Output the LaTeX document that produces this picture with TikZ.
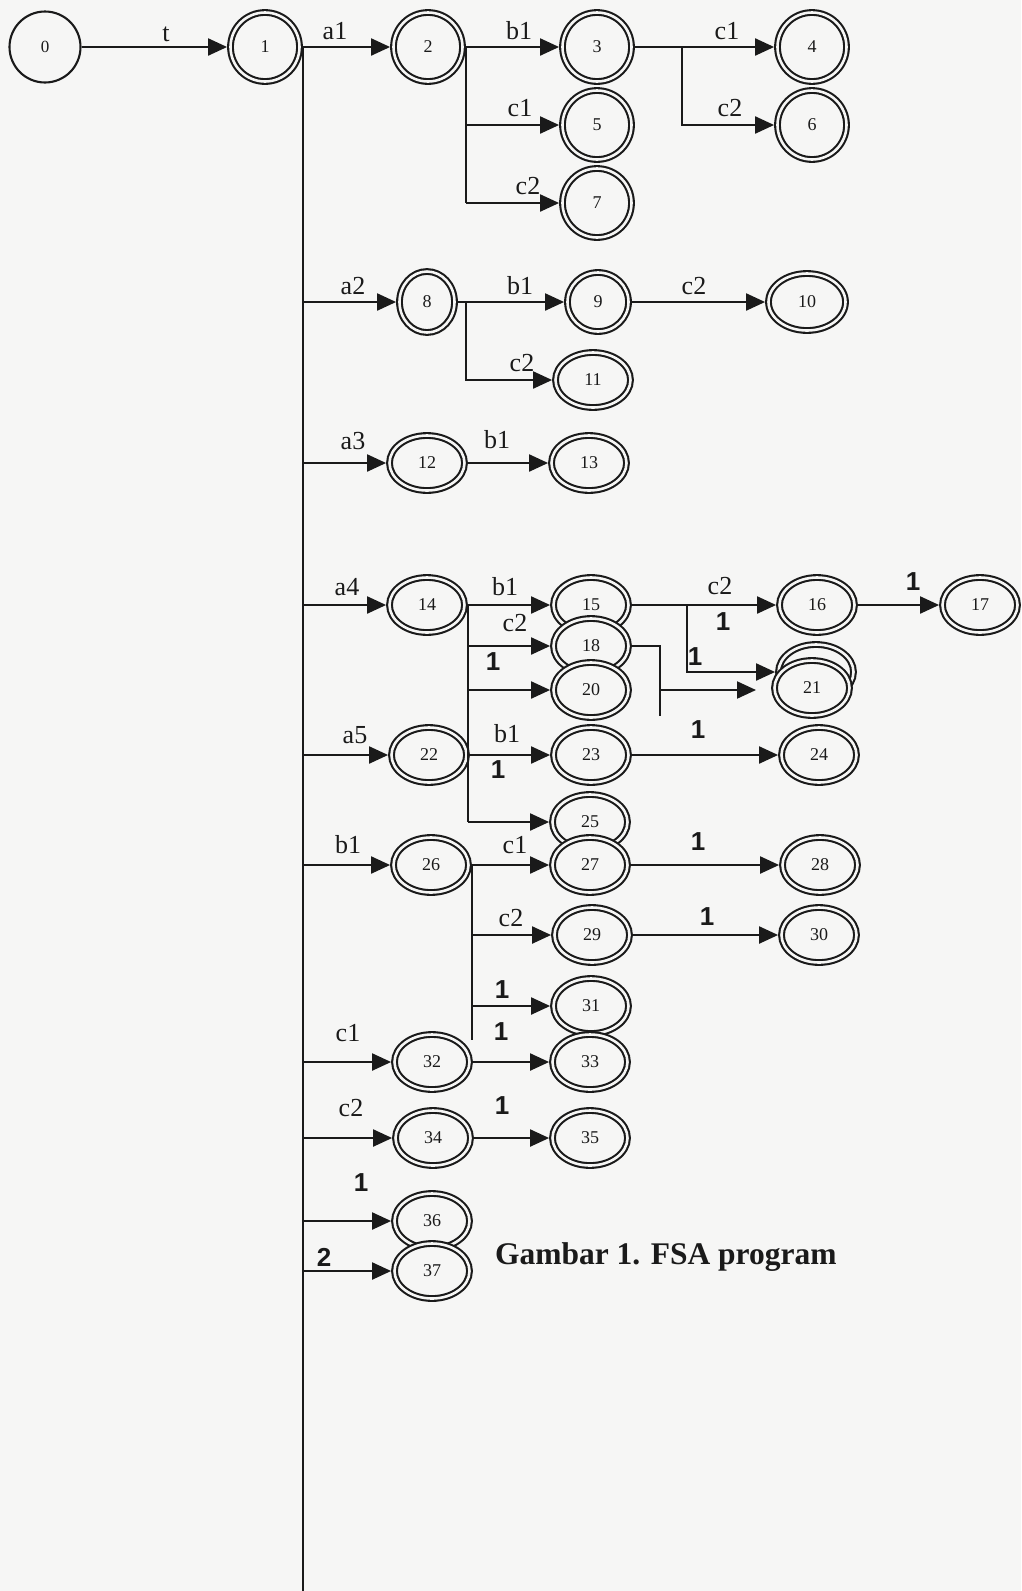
\documentclass[tikz,border=0pt]{standalone}
\usepackage{fontspec}
\setmainfont{Liberation Serif}
\newfontfamily\labelsans{Liberation Sans}
\usetikzlibrary{shapes.geometric,arrows.meta}
\definecolor{paper}{HTML}{F6F6F5}
\definecolor{ink}{HTML}{1A1A1A}

\begin{document}
\begin{tikzpicture}[x=1pt, y=-1pt, line width=2.1pt, color=ink,
    arr/.style={-{Triangle[length=19pt,width=17pt]}},
    state/.style={ellipse, draw, double=paper, double distance=2.6pt, fill=paper,
      minimum width=75pt, minimum height=55pt, inner sep=0pt, outer sep=3.4pt,
      font=\fontsize{18}{20}\selectfont},
    circ/.style={minimum width=69pt, minimum height=69pt},
    start/.style={circle, draw, fill=paper, minimum size=71pt, inner sep=0pt,
      font=\fontsize{17}{20}\selectfont},
    lbl/.style={inner sep=0pt, font=\fontsize{26}{30}\selectfont},
    one/.style={inner sep=0pt, font=\labelsans\bfseries\fontsize{26}{30}\selectfont}]
  \path[use as bounding box, fill=paper] (0,0) rectangle (1021,1591);
  \coordinate (bottom) at (305,1591);

  % states
  \node[start] (n0) at (45,47) {0};
  \foreach \n/\x/\y in {1/265/47, 2/428/47, 3/597/47, 4/812/47,
      5/597/125, 6/812/125, 7/597/203}
    \node[state, circ] (n\n) at (\x,\y) {\n};
  \node[state, minimum width=55pt, minimum height=61pt] (n8) at (427,302) {8};
  \node[state, minimum width=61pt, minimum height=59pt] (n9) at (598,302) {9};
  \node[state, minimum width=77pt, minimum height=57pt] (n10) at (807,302) {10};
  \node[state] (n21b) at (816,672) {};
  \foreach \n/\x/\y in {11/593/380, 12/427/463, 13/589/463,
      14/427/605, 15/591/605, 16/817/605, 17/980/605, 18/591/646, 20/591/690,
      21/812/688, 22/429/755, 23/591/755, 24/819/755, 25/590/822,
      26/431/865, 27/590/865, 28/820/865, 29/592/935, 30/819/935,
      31/591/1006, 32/432/1062, 33/590/1062, 34/433/1138, 35/590/1138,
      36/432/1221, 37/432/1271}
    \node[state] (n\n) at (\x,\y) {\n};

  % trunk from state 1
  \draw[arr] (n0) -- (n1);
  \draw (n1.east) -- (n1.east |- bottom);
  \draw[arr] (n1) -- (n2);
  \foreach \n in {8,12,14,22,26,32,34,36,37}
    \draw[arr] (n1.east |- n\n) -- (n\n);

  % a1 branch
  \draw (n2.east) -- (n2.east |- n7);
  \draw[arr] (n2) -- (n3);
  \foreach \n in {5,7}
    \draw[arr] (n2.east |- n\n) -- (n\n);
  \draw[arr] (n3) -- (n4);
  \draw[arr] ([xshift=47pt]n3.east) |- (n6);

  % a2, a3
  \draw[arr] (n8) -- (n9);
  \draw[arr] (n9) -- (n10);
  \draw[arr] ([xshift=8pt]n8.east) |- (n11);
  \draw[arr] (n12) -- (n13);

  % a4, a5
  \coordinate (j18) at (660,716);
  \coordinate (t21) at (756,690);
  \draw (n14.east) -- (n14.east |- n25);
  \draw[arr] (n14) -- (n15);
  \foreach \n in {18,20,25}
    \draw[arr] (n14.east |- n\n) -- (n\n);
  \draw[arr] (n22) -- (n23);
  \draw[arr] (n15) -- (n16);
  \draw[arr] (n16) -- (n17);
  \draw[arr] ([xshift=55pt]n15.east) |- (n21b);
  \draw (n18.east) -| (j18);
  \draw[arr] (j18 |- t21) -- (t21);
  \draw[arr] (n23) -- (n24);

  % b1, c1, c2
  \draw (n26.east) -- (n26.east |- n32.north east);
  \draw[arr] (n26) -- (n27);
  \foreach \n in {29,31}
    \draw[arr] (n26.east |- n\n) -- (n\n);
  \draw[arr] (n27) -- (n28);
  \draw[arr] (n29) -- (n30);
  \draw[arr] (n32) -- (n33);
  \draw[arr] (n34) -- (n35);

  % labels
  \foreach[count=\i] \t/\x/\y in {t/166/34, a1/335/31, b1/519/31, c1/727/31,
      c1/520/108, c2/730/108, c2/528/186, a2/353/286, b1/520/286, c2/694/286,
      c2/522/363, a3/353/441, b1/497/440, a4/347/587, b1/505/587, c2/515/623,
      c2/720/586, a5/355/735, b1/507/734, b1/348/845, c1/515/845, c2/511/918,
      c1/348/1033, c2/351/1108}
    \node[lbl] (lb\i) at (\x,\y) {\t};
  \foreach[count=\i] \t/\x/\y in {1/723/622, 1/695/657, 1/493/662, 1/913/582,
      1/498/770, 1/698/730, 1/698/842, 1/707/917, 1/502/990, 1/501/1032,
      1/502/1106, 1/361/1183, 2/324/1257}
    \node[one] (one\i) at (\x,\y) {\t};

  \node[anchor=west, inner sep=0pt, font=\bfseries\fontsize{31.5}{36}\selectfont]
    (caption) at (494,1257) {Gambar 1. FSA program};
\end{tikzpicture}
\end{document}
